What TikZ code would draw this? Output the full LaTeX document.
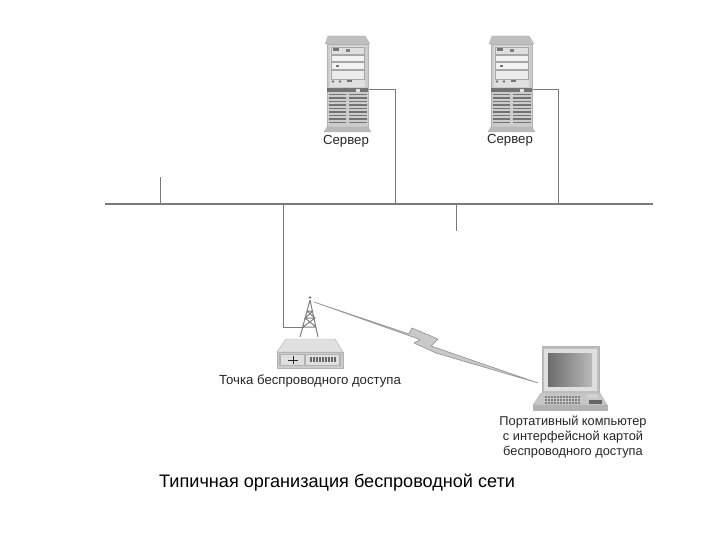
\documentclass[tikz,border=0pt]{standalone}
\usepackage{fontspec}
\setmainfont{Liberation Sans}
\usetikzlibrary{calc}
\definecolor{wire}{gray}{0.48}
\definecolor{body}{gray}{0.8}
\definecolor{dark}{gray}{0.45}
\definecolor{pale}{gray}{0.88}
\tikzset{
  wireline/.style={draw=wire,line width=1pt},
  busline/.style={draw=wire,line width=1.9pt},
  lab/.style={font=\fontsize{13.2}{14.6}\selectfont,text=black!85,inner sep=0pt,align=center},
  labsmall/.style={font=\fontsize{12.8}{14.6}\selectfont,text=black!85,inner sep=0pt,align=center},
  caption/.style={font=\fontsize{18.1}{20}\selectfont,text=black,inner sep=0pt},
  shell/.style={fill=body,draw=gray!60,line width=.4pt},
  hole/.style={fill=dark,draw=none},
}
\newcommand{\serverart}{%
  \path[shell,fill=gray!50] (328,36)--(365,36)--(370,44)--(325,44)--cycle;
  \path[shell] (327,44) rectangle (368,127);
  \path[fill=pale] (330,46) rectangle (365,87);
  \path[draw=gray!70,line width=.5pt,fill=gray!25] (331,47) rectangle (364,54);
  \path[hole] (333,48) rectangle (339,51);
  \path[hole,fill=gray] (346,49) rectangle (350,52);
  \path[draw=gray!70,line width=.5pt,fill=gray!10] (331,55) rectangle (364,61);
  \path[draw=gray!70,line width=.5pt,fill=gray!10] (331,62) rectangle (364,69);
  \path[hole] (336,65) rectangle (339,67);
  \path[draw=gray!70,line width=.5pt,fill=gray!15] (331,70) rectangle (364,79);
  \path[hole] (333,81.5) circle (1.4);
  \path[hole] (340,81.5) circle (1.4);
  \path[hole] (347,80.5) rectangle (352,82);
  \path[hole] (327,88) rectangle (368,92.5);
  \path[fill=pale] (356,89) rectangle (360,92);
  \foreach \yy in {94,97.5,...,124}{
    \path[hole] (329,\yy) rectangle (345.5,\yy+1.2);
    \path[hole] (348.5,\yy) rectangle (366.5,\yy+1.2);
  }
  \path[shell,fill=gray!55] (327,127)--(368,127)--(371,132)--(324,132)--cycle;
}
\begin{document}
\begin{tikzpicture}[x=1pt,y=-1pt]
\useasboundingbox (0,0) rectangle (720,540);
\fill[white] (0,0) rectangle (720,540);
% bus and free ends
\coordinate (busL) at (105,204);
\coordinate (busR) at (653,204);
\coordinate (tapA) at (160,204);
\coordinate (stubA) at (160,177);
\coordinate (tapB) at (456,204);
\coordinate (stubB) at (456,231);
\coordinate (tapAP) at (283,204);
\coordinate (tapS1) at (395,204);
\coordinate (tapS2) at (558,204);
\coordinate (port1) at (368,89.5);
\coordinate (port2) at (532,89.5);
\coordinate (mast) at (304,327);
\draw[busline] (busL) -- (busR);
\draw[wireline] (tapA) -- (stubA);
\draw[wireline] (tapB) -- (stubB);
\draw[wireline] (tapAP) |- (mast);
\draw[wireline] (port1) -| (tapS1);
\draw[wireline] (port2) -| (tapS2);
% servers
\serverart
\begin{scope}[xshift=164pt]\serverart\end{scope}
\node[lab] (s1) at (346,141) {Сервер};
\node[lab] (s2) at (510,140) {Сервер};
% tower
\draw[gray,line width=1pt] (310,300)--(300,337) (310,300)--(318,337)
  (307,311)--(313,311) (305,318)--(315,318) (303,327)--(316,327)
  (307,311)--(315,318)--(303,327) (313,311)--(305,318)--(316,327);
\fill[gray!60!black] (310,297.5) circle (1.2);
% access point
\path[shell,fill=pale] (286,339)--(335,339)--(343,352)--(277,352)--cycle;
\path[shell] (277,352) rectangle (343,368);
\path[fill=gray!60] (279,354) rectangle (341,366);
\path[fill=gray!25] (281,355) rectangle (304,365);
\path[fill=gray!25] (306,355) rectangle (339,365);
\draw[gray!30!black,line width=.8pt] (288,360)--(298,360) (293,356)--(293,364);
\foreach \xx in {310,313,...,334}{\fill[black!60] (\xx,357) rectangle (\xx+1.6,362);}
\node[lab] (ap) at (310,381) {Точка беспроводного доступа};
% bolt
\path[fill=gray!42,draw=gray!80,line width=.7pt,line join=round]
  (314,302)--(409,334)--(412,328)--(438,339)--(431,346)--(538,383)--(436,353)--(414,343)--(420,339.5)--cycle;
% laptop
\path[shell,fill=gray!50] (542,346) rectangle (599,393);
\path[fill=gray!25] (544,349) rectangle (597,391);
\path[left color=gray!85!black,right color=gray!55,draw=none] (548,353) rectangle (592,386);
\path[shell,fill=gray!45] (541,393)--(600,393)--(607,405)--(533,405)--cycle;
\path[shell,fill=gray!60] (533,405) rectangle (607,410);
\foreach \yy in {396,399,402}{
  \foreach \xx in {545,548,...,580}{\fill[black!50] (\xx,\yy) rectangle (\xx+2,\yy+1.8);}
}
\path[fill=black!60] (589,400) rectangle (602,404);
\path[fill=gray!35] (587,394) rectangle (598,398);
\node[labsmall] (lt) at (573,437) {Портативный компьютер\\с интерфейсной картой\\беспроводного доступа};
% caption
\node[caption,anchor=west] (cap) at (159,483) {Типичная организация беспроводной сети};
\end{tikzpicture}
\end{document}
